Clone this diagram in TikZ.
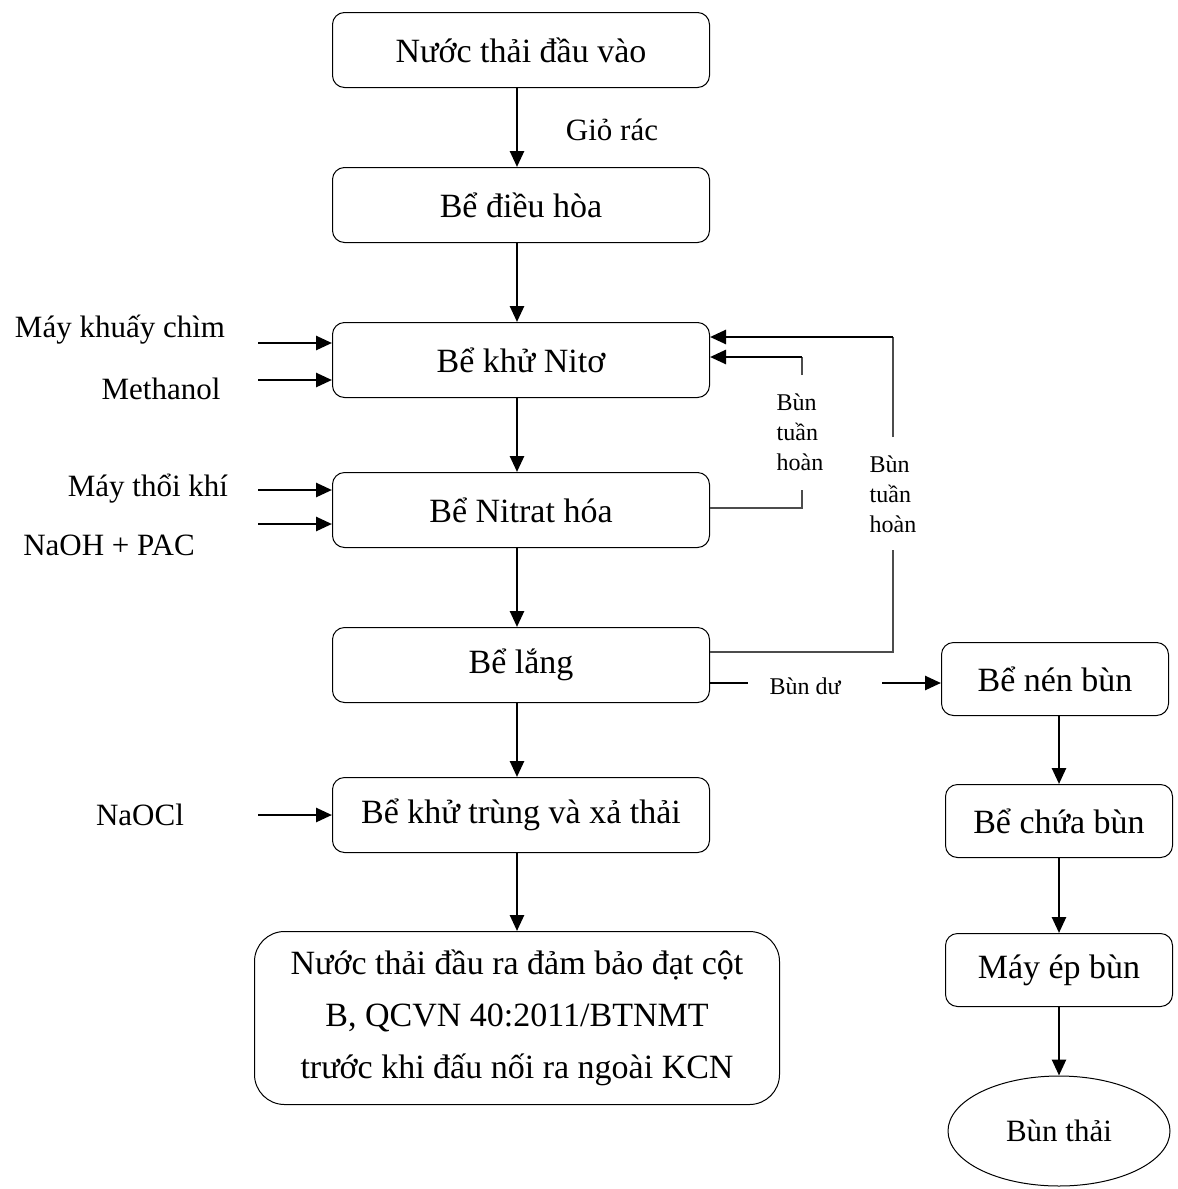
\documentclass[tikz,border=0pt]{standalone}
\usepackage{fontspec}
\setmainfont{Liberation Serif}
\usetikzlibrary{arrows.meta,shapes.geometric}
\begin{document}
\begin{tikzpicture}[x=1pt,y=-1pt,
    box/.style={draw,rounded corners=12pt,line width=1pt,minimum width=377pt,minimum height=75pt,
      font=\fontsize{34}{52}\selectfont,align=center,inner sep=0pt},
    sbox/.style={box,minimum width=227pt,minimum height=73pt},
    lbl/.style={font=\fontsize{31}{37}\selectfont,inner sep=0pt},
    small/.style={font=\fontsize{24}{28}\selectfont,align=left,inner sep=0pt},
    arr/.style={-{Triangle[length=16pt,width=14pt]},line width=2.6pt},
    thin/.style={line width=1.5pt,black!70}]
  \useasboundingbox (0,0) rectangle (1178,1189);
  % main line
  \node[box] (vao) at (521,50) {Nước thải đầu vào};
  \node[box] (dh) at (521,205) {Bể điều hòa};
  \node[box] (khu) at (521,360) {Bể khử Nitơ};
  \node[box] (nit) at (521,510) {Bể Nitrat hóa};
  \node[box] (lang) at (521,665) {Bể lắng};
  \node[box] (kt) at (521,815) {Bể khử trùng và xả thải};
  \node[box,rounded corners=30pt,minimum width=525pt,minimum height=173pt] (ra) at (517,1018)
    {Nước thải đầu ra đảm bảo đạt cột\\B, QCVN 40:2011/BTNMT\\trước khi đấu nối ra ngoài KCN};
  % sludge line
  \node[sbox] (nen) at (1055,679) {Bể nén bùn};
  \node[sbox] (chua) at (1059,821) {Bể chứa bùn};
  \node[sbox] (ep) at (1059,970) {Máy ép bùn};
  \node[draw,ellipse,line width=1pt,minimum width=222pt,minimum height=110pt,
    font=\fontsize{31}{37}\selectfont,inner sep=0pt] (thai) at (1059,1131) {Bùn thải};
  % labels
  \node[lbl] (gio) at (612,130) {Giỏ rác};
  \node[lbl] (may) at (120,330) {Máy khuấy chìm};
  \node[lbl] (meth) at (161,389) {Methanol};
  \node[lbl] (thoi) at (148,489) {Máy thổi khí};
  \node[lbl] (naoh) at (109,545) {NaOH + PAC};
  \node[lbl] (naocl) at (140,815) {NaOCl};
  \node[small] (rin) at (800,432) {Bùn\\[2pt]tuần\\[2pt]hoàn};
  \node[small] (rout) at (893,494) {Bùn\\[2pt]tuần\\[2pt]hoàn};
  \node[small] (du) at (805,686) {Bùn dư};
  % free ends
  \coordinate (k1) at (258,343);
  \coordinate (k2) at (258,380);
  \coordinate (k3) at (258,490);
  \coordinate (k4) at (258,524);
  \coordinate (k5) at (258,815);
  \coordinate (c1) at (802,357);
  \coordinate (c2) at (893,337);
  \coordinate (c3) at (802,490);
  \coordinate (c4) at (802,375);
  \coordinate (c5) at (893,550);
  \coordinate (c6) at (893,437);
  \coordinate (d1) at (748,683);
  \coordinate (d2) at (882,683);
  % flow
  \draw[arr] (vao.south -| ra) -- (dh.north -| ra);
  \draw[arr] (dh.south -| ra) -- (khu.north -| ra);
  \draw[arr] (khu.south -| ra) -- (nit.north -| ra);
  \draw[arr] (nit.south -| ra) -- (lang.north -| ra);
  \draw[arr] (lang.south -| ra) -- (kt.north -| ra);
  \draw[arr] (kt.south -| ra) -- (ra);
  \draw[arr] (nen.south -| chua) -- (chua);
  \draw[arr] (chua) -- (ep);
  \draw[arr] (ep) -- (thai);
  % inputs
  \draw[arr] (k1) -- (k1 -| khu.west);
  \draw[arr] (k2) -- (k2 -| khu.west);
  \draw[arr] (k3) -- (k3 -| nit.west);
  \draw[arr] (k4) -- (k4 -| nit.west);
  \draw[arr] (k5) -- (k5 -| kt.west);
  % recirculation
  \draw[thin] ([yshift=2pt]nit.east) -| (c3);
  \draw[thin] (c4) -- (c1);
  \draw[arr] (c1) -- (c1 -| khu.east);
  \draw[thin] ([yshift=13pt]lang.east) -| (c5);
  \draw[thin] (c6) -- (c2);
  \draw[arr] (c2) -- (c2 -| khu.east);
  % excess sludge
  \draw[line width=2.6pt] (d1 -| lang.east) -- (d1);
  \draw[arr] (d2) -- (d2 -| nen.west);
\end{tikzpicture}
\end{document}
